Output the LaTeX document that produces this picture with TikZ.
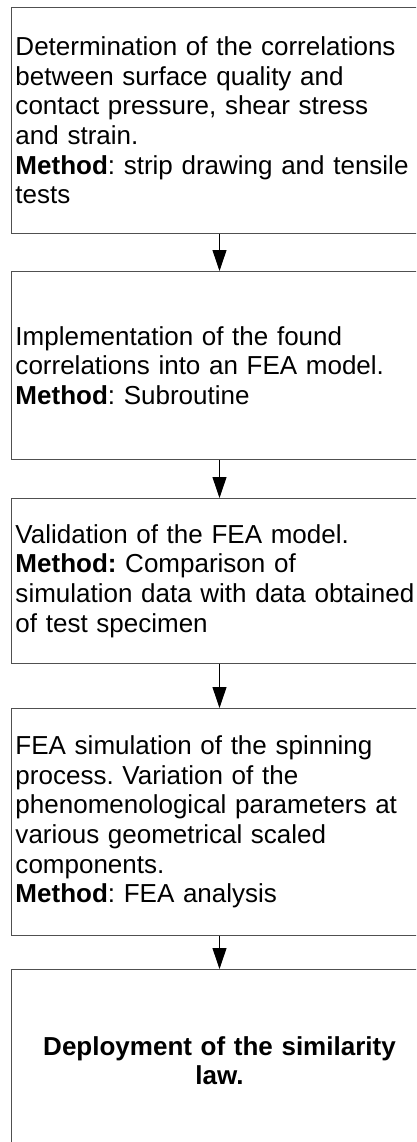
\documentclass[tikz,border=0pt]{standalone}
\usepackage{fontspec}
\setmainfont{Liberation Sans}
\usetikzlibrary{arrows.meta}
\definecolor{boxline}{RGB}{80,80,80}
\frenchspacing
\begin{document}
\begin{tikzpicture}[x=1pt,y=-1pt,
  flowbox/.style={draw=boxline, line width=1pt, minimum width=416pt, inner xsep=4pt, inner ysep=0pt,
    text width=408pt, anchor=north west, font=\fontsize{26}{29.6}\selectfont},
  flowarrow/.style={-{Triangle[width=14pt,length=21pt]}, line width=0.9pt, draw=black}]
\useasboundingbox (0,0) rectangle (416,1142);
\clip (0,0) rectangle (416,1142);
\fill[white] (0,0) rectangle (416,1142);
\node[flowbox, minimum height=226pt, align=left] (b1) at (11,7)
  {Determination of the correlations\\ between surface quality and\\ contact pressure, shear stress\\ and strain.\\ \textbf{Method}: strip drawing and tensile\\ tests};
\node[flowbox, minimum height=188pt, align=left] (b2) at (11,271)
  {Implementation of the found\\ correlations into an FEA model.\\ \textbf{Method}: Subroutine};
\node[flowbox, minimum height=165pt, align=left] (b3) at (11,498)
  {Validation of the FEA model.\\ \textbf{Method:} Comparison of\\ simulation data with data obtained\\ of test specimen};
\node[flowbox, minimum height=227pt, align=left] (b4) at (11,708)
  {FEA simulation of the spinning\\ process. Variation of the\\ phenomenological parameters at\\ various geometrical scaled\\ components.\\ \textbf{Method}: FEA analysis};
\node[flowbox, minimum height=182pt, align=center] (b5) at (11,969)
  {\textbf{Deployment of the similarity}\\ \textbf{law.}};
\draw[flowarrow] (b1.south) -- (b2.north);
\draw[flowarrow] (b2.south) -- (b3.north);
\draw[flowarrow] (b3.south) -- (b4.north);
\draw[flowarrow] (b4.south) -- (b5.north);
\end{tikzpicture}
\end{document}
